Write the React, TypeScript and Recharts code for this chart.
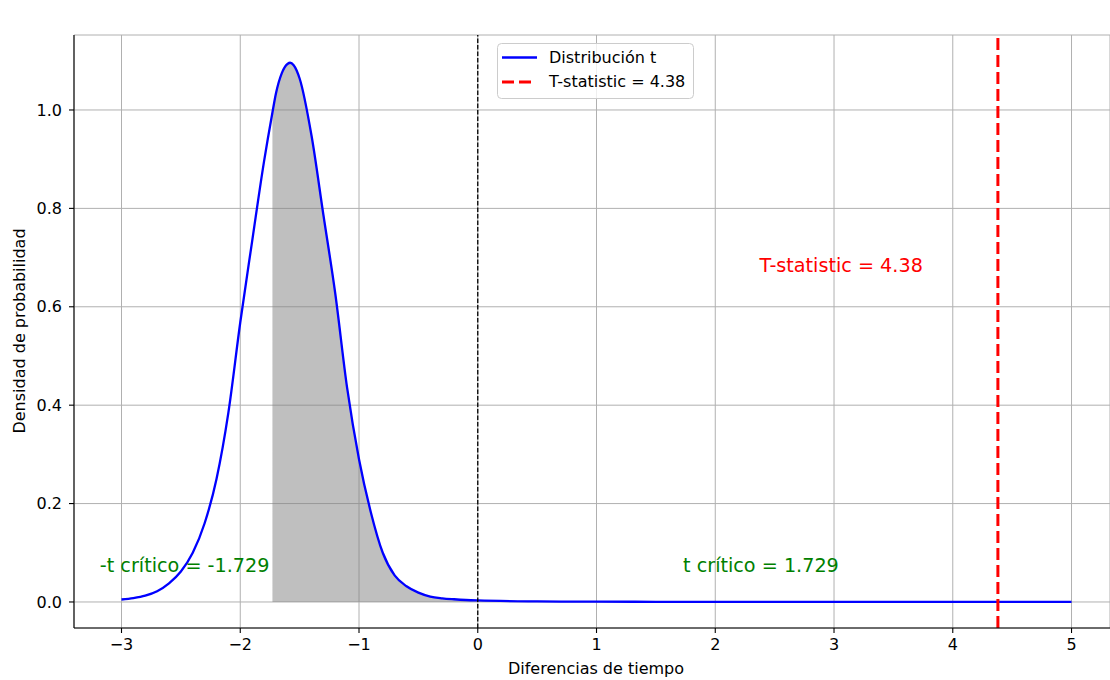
import React from 'react';
import {
  ComposedChart,
  Line,
  Area,
  XAxis,
  YAxis,
  CartesianGrid,
  ReferenceLine,
  ReferenceDot,
  Legend,
} from 'recharts';

// ---- data ----
const xValues = [
  -3.0, -2.9, -2.8, -2.7, -2.6, -2.5, -2.4, -2.3, -2.2, -2.1, -2.0, -1.9, -1.8,
  -1.729, -1.7, -1.65, -1.6, -1.58, -1.55, -1.5, -1.4, -1.3, -1.2, -1.1, -1.0,
  -0.9, -0.8, -0.7, -0.6, -0.5, -0.4, -0.3, -0.2, -0.1, 0.0, 0.5, 1.0, 1.5,
  1.729, 2.0, 2.5, 3.0, 3.5, 4.0, 4.5, 5.0,
];
const densityValues = [
  0.005, 0.008, 0.013, 0.022, 0.038, 0.062, 0.1, 0.16, 0.25, 0.385, 0.568,
  0.733, 0.895, 0.995, 1.033, 1.075, 1.094, 1.096, 1.091, 1.064, 0.948, 0.787,
  0.627, 0.435, 0.29, 0.182, 0.1, 0.054, 0.032, 0.019, 0.011, 0.0075, 0.0055,
  0.004, 0.0031, 0.0012, 0.0006, 0.0004, 0.0003, 0.0003, 0.0002, 0.0002,
  0.0001, 0.0001, 0.0001, 0.0001,
];
const tStatistic = 4.38;
const tCritical = 1.729;
const xTicks = [-3, -2, -1, 0, 1, 2, 3, 4, 5];
const yTicks = [0, 0.2, 0.4, 0.6, 0.8, 1.0];
const xDomain: [number, number] = [-3.4, 5.324];
const yDomain: [number, number] = [-0.0529, 1.1524];

const data = xValues.map((x, i) => ({
  x,
  density: densityValues[i],
  shade: x >= -tCritical && x <= tCritical ? densityValues[i] : null,
}));

const FONT = "'DejaVu Sans', 'Liberation Sans', sans-serif";

const fmtX = (v: number) => (v < 0 ? '\u2212' + Math.abs(v) : String(v));
const fmtY = (v: number) => v.toFixed(1);

const LegendBox = () => (
  <svg width={198} height={57} style={{ display: 'block', overflow: 'visible' }}>
    <rect x={0.5} y={0.5} width={196} height={55} rx={4} ry={4} fill="#ffffff" fillOpacity={0.8} stroke="#cccccc" strokeWidth={1} />
    <line x1={5} x2={40} y1={14.5} y2={14.5} stroke="#0000ff" strokeWidth={2.3} />
    <text x={52} y={20} fontSize={16} fontFamily={FONT} fill="#000">Distribución t</text>
    <line x1={5} x2={38} y1={39} y2={39} stroke="#ff0000" strokeWidth={3} strokeDasharray="12 5" />
    <text x={52} y={44} fontSize={16} fontFamily={FONT} fill="#000">{`T-statistic = ${tStatistic}`}</text>
  </svg>
);

const TitleLabel = (props: any) => {
  const vb = props.viewBox || { x: 74, y: 35 };
  return (
    <text x={vb.x + 522} y={26} textAnchor="middle" fontSize={19.2} fontFamily={FONT} fill="#000">
      Prueba t de la dimensión Tiempo
    </text>
  );
};

const XLabel = (props: any) => {
  const vb = props.viewBox || { x: 74, y: 628 };
  return (
    <text x={vb.x + 522} y={674} textAnchor="middle" fontSize={16} fontFamily={FONT} fill="#000">
      Diferencias de tiempo
    </text>
  );
};

const YLabel = () => (
  <text x={25} y={331} textAnchor="middle" fontSize={16} fontFamily={FONT} fill="#000" transform="rotate(-90 25 331)">
    Densidad de probabilidad
  </text>
);

const makeText = (txt: string, color: string, anchor: 'start' | 'middle' | 'end', dx = 0) => (p: any) => (
  <text x={p.cx + dx} y={p.cy} textAnchor={anchor} fontSize={19.2} fontFamily={FONT} fill={color}>
    {txt}
  </text>
);

export default function App() {
  return (
    <div style={{ position: 'fixed', left: 0, top: 0, width: 1110, height: 680, overflow: 'hidden', background: '#fff' }}>
      <ComposedChart
        width={1110}
        height={680}
        data={data}
        margin={{ top: 35, right: 0, bottom: 0, left: 0 }}
        style={{ fontFamily: FONT }}
      >
        <CartesianGrid stroke="#b0b0b0" strokeWidth={1} />
        <XAxis
          dataKey="x"
          type="number"
          domain={xDomain}
          allowDataOverflow
          ticks={xTicks}
          interval={0}
          tickFormatter={fmtX}
          height={52}
          tickSize={5}
          tickMargin={6}
          tick={{ fontSize: 16, fill: '#000', fontFamily: FONT }}
          tickLine={{ stroke: '#000', strokeWidth: 1.1 }}
          axisLine={{ stroke: '#000', strokeWidth: 1.1 }}
          label={<XLabel />}
        />
        <XAxis
          xAxisId="top"
          orientation="top"
          dataKey="x"
          type="number"
          domain={xDomain}
          allowDataOverflow
          height={0}
          tick={false}
          tickLine={false}
          axisLine={{ stroke: '#000', strokeWidth: 1.1 }}
          label={<TitleLabel />}
        />
        <YAxis
          type="number"
          domain={yDomain}
          allowDataOverflow
          ticks={yTicks}
          interval={0}
          tickFormatter={fmtY}
          width={74}
          tickSize={5}
          tickMargin={7}
          tick={{ fontSize: 16, fill: '#000', fontFamily: FONT }}
          tickLine={{ stroke: '#000', strokeWidth: 1.1 }}
          axisLine={{ stroke: '#000', strokeWidth: 1.1 }}
          label={<YLabel />}
        />
        <Area
          dataKey="shade"
          type="monotone"
          baseValue={0}
          fill="#808080"
          fillOpacity={0.5}
          stroke="#808080"
          strokeOpacity={0.5}
          strokeWidth={1}
          isAnimationActive={false}
          connectNulls={false}
          dot={false}
          activeDot={false}
          legendType="none"
        />
        <Line
          dataKey="density"
          type="monotone"
          stroke="#0000ff"
          strokeWidth={2.3}
          dot={false}
          activeDot={false}
          isAnimationActive={false}
          name="Distribución t"
        />
        <ReferenceLine x={0} stroke="#000" strokeWidth={1.3} strokeDasharray="4.5 2" />
        <ReferenceLine x={tStatistic} stroke="#ff0000" strokeWidth={3} strokeDasharray="12 5" />
        <ReferenceDot x={-tCritical} y={0.061} r={0} shape={makeText(`-t crítico = -${tCritical}`, '#008000', 'end', -3)} />
        <ReferenceDot x={tCritical} y={0.061} r={0} shape={makeText(`t crítico = ${tCritical}`, '#008000', 'start')} />
        <ReferenceDot x={3.06} y={0.67} r={0} shape={makeText(`T-statistic = ${tStatistic}`, '#ff0000', 'middle')} />
        <Legend
          verticalAlign="middle"
          align="center"
          content={<LegendBox />}
          wrapperStyle={{ left: 497, top: 43, width: 198, height: 57 }}
        />
      </ComposedChart>
    </div>
  );
}
